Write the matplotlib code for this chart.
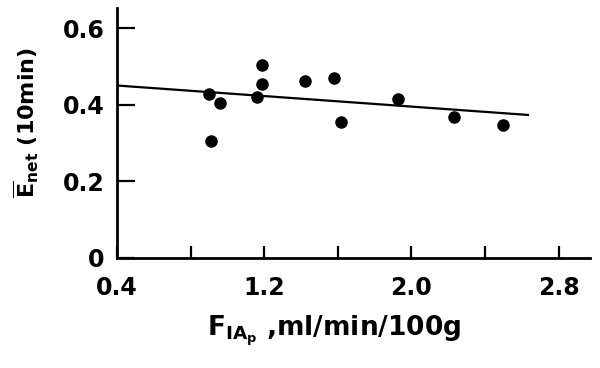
import matplotlib
matplotlib.use('Agg')
import matplotlib.pyplot as plt
import numpy as np

# data
flow = [0.90, 0.96, 0.91, 1.16, 1.19, 1.19, 1.42, 1.58, 1.62, 1.93, 2.23, 2.50]
e_net = [0.427, 0.404, 0.304, 0.420, 0.454, 0.504, 0.463, 0.469, 0.355, 0.414, 0.369, 0.346]
fit_x = [0.4, 2.64]
fit_y = [0.450, 0.373]

x_major = [0.4, 1.2, 2.0, 2.8]
x_minor = [0.8, 1.6, 2.4]
y_ticks = [0, 0.2, 0.4, 0.6]
y_labels = ['0', '0.2', '0.4', '0.6']

plt.rcParams['font.family'] = ['DejaVu Sans']
plt.rcParams['font.weight'] = 'bold'
plt.rcParams['mathtext.fontset'] = 'custom'
plt.rcParams['mathtext.rm'] = 'DejaVu Sans:bold'
plt.rcParams['mathtext.it'] = 'DejaVu Sans:bold'
plt.rcParams['mathtext.bf'] = 'DejaVu Sans:bold'

fig = plt.figure(figsize=(6, 3.68), dpi=100)
ax = fig.add_axes([0.195, 0.299, 0.788, 0.679])

ax.plot(fit_x, fit_y, color='black', lw=1.6, solid_capstyle='butt')
ax.plot(flow, e_net, 'o', color='black', ms=8, mec='black')

ax.set_xlim(0.4, 2.97)
ax.set_ylim(0, 0.652)

for s in ['top', 'right']:
    ax.spines[s].set_visible(False)
for s in ['left', 'bottom']:
    ax.spines[s].set_linewidth(2)

ax.set_xticks(x_major)
ax.set_xticklabels(['0.4', '1.2', '2.0', '2.8'])
ax.set_xticks(x_minor, minor=True)
ax.set_yticks(y_ticks)
ax.set_yticklabels(y_labels)

ax.tick_params(axis='x', which='both', direction='in', length=9, width=1.6,
               pad=13, labelsize=17)
ax.tick_params(axis='y', direction='in', length=13, width=1.6,
               pad=9, labelsize=17)

ax.set_xlabel(r'F$_{\mathrm{IA}_{\mathrm{p}}}$ ,ml/min/100g', fontsize=19,
              fontweight='bold')
ax.xaxis.set_label_coords(0.46, -0.22)
ax.set_ylabel(r'$\overline{\mathrm{E}}_{\mathrm{net}}$ (10min)', fontsize=16,
              fontweight='bold')
ax.yaxis.set_label_coords(-0.16, 0.54)

fig.savefig('out.png', dpi=100)
